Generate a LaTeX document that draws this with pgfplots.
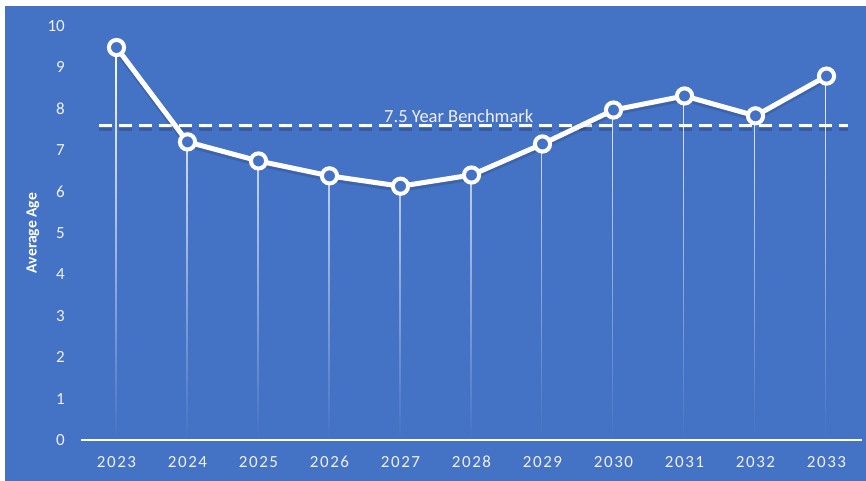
\documentclass[border=0pt]{standalone}
\usepackage{pgfplots}
\pgfplotsset{compat=1.18}
\usetikzlibrary{fadings}
\usepackage{fontspec}
\setmainfont{Carlito}
\newfontfamily\spaced[LetterSpace=9]{Carlito}
\definecolor{bg}{RGB}{68,114,196}
\definecolor{tickc}{RGB}{240,240,242}
\pgfplotstableread{
x y
0 9.48
1 7.20
2 6.74
3 6.38
4 6.13
5 6.40
6 7.15
7 7.97
8 8.31
9 7.83
10 8.79
}\agedata
\begin{document}
\begin{tikzpicture}
\fill[white] (-81pt,-41pt) rectangle (785pt,440pt);
\fill[bg] (-76pt,-41pt) rectangle (785pt,434pt);
\begin{axis}[
  scale only axis, width=781pt, height=414pt,
  xmin=-0.5, xmax=10.5, ymin=0, ymax=10,
  axis x line*=bottom, axis y line*=left,
  x axis line style={draw=white, line width=1.5pt, -},
  y axis line style={draw=none},
  major tick length=0pt,
  xtick={0,...,10},
  xticklabels={2023,2024,2025,2026,2027,2028,2029,2030,2031,2032,2033},
  ytick={0,...,10},
  /pgf/number format/assume math mode=true,
  ticklabel style={text=tickc},
  yticklabel style={font=\fontsize{17}{20}\selectfont, anchor=east, inner sep=0pt, xshift=-16pt},
  xticklabel style={font=\spaced\fontsize{17}{20}\selectfont, anchor=north, inner sep=0pt, yshift=-16pt},
  clip=false,
]
% benchmark shadow and line
\addplot[black, opacity=0.18, line width=3pt, dash pattern=on 13pt off 7pt, transform canvas={yshift=-4pt}] coordinates {(-0.24,7.6) (10.3,7.6)};
\addplot[white, line width=3pt, dash pattern=on 13pt off 7pt] coordinates {(-0.24,7.6) (10.3,7.6)};
% main line shadow
\addplot[black, opacity=0.12, line width=5pt, no marks, transform canvas={yshift=-3pt}] table[x=x,y=y] {\agedata};
% main line
\addplot[white, line width=5pt, mark=*, mark size=7.6pt, mark options={fill=bg, draw=white, line width=4pt}] table[x=x,y=y] {\agedata};
% drop lines
\addplot[ycomb, white, line width=1.4pt, no marks, path fading=south] table[x=x,y=y] {\agedata};
\node[anchor=base, text=tickc, font=\fontsize{18.5}{22}\selectfont, inner sep=0pt, yshift=3pt] at (axis cs:4.82,7.6) {7.5 Year Benchmark};
\node[rotate=90, anchor=center, inner sep=0pt, text=white, font=\bfseries\fontsize{15.6}{18.5}\selectfont] at (axis description cs:-0.0615,0.5) {Average Age};
\end{axis}
\end{tikzpicture}
\end{document}
